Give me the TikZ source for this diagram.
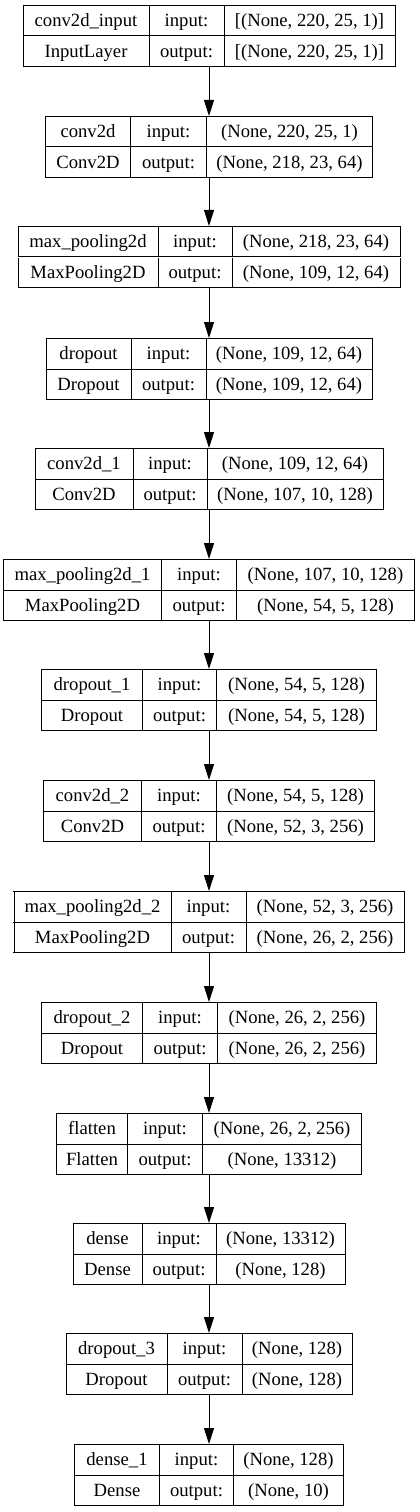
\documentclass[tikz,border=0pt]{standalone}
\usepackage{fontspec}
\setmainfont{Liberation Serif}
\usepackage{array}
\usepackage{tikz}
\usetikzlibrary{arrows.meta}

\setlength{\arrayrulewidth}{0.75pt}
\setlength{\tabcolsep}{0pt}
\newcommand{\rowstrut}{\rule[-6.7pt]{0pt}{22.125pt}}
% widths in px (1px = 0.75pt), then name, input, type, output
\newcommand{\layertab}[9]{%
  \begin{tabular}{|w{c}{\dimexpr 0.75pt*#1-0.75pt\relax}|w{c}{\dimexpr 0.75pt*#2-0.75pt\relax}|w{c}{\dimexpr 0.75pt*#3-0.75pt\relax}|}\hline
    \rowstrut #4 & #5 & #6\\\hline
    \rowstrut #7 & #8 & #9\\\hline
  \end{tabular}}

\begin{document}
\begin{tikzpicture}[
		layer/.style={rectangle, inner sep=0pt, outer sep=0pt, font=\fontsize{14pt}{16pt}\selectfont},
		flow/.style={line width=0.75pt, -{Triangle[length=12pt, width=7.5pt]}}
	]
  \useasboundingbox (0pt, 0pt) rectangle (314.25pt, -1134pt);
  \node (conv2d_input) [layer] at (156.75pt, -27pt) {\layertab{126}{75}{171}{conv2d\_input}{input:}{[(None, 220, 25, 1)]}{InputLayer}{output:}{[(None, 220, 25, 1)]}};
  \node (conv2d) [layer] at (156.75pt, -110.25pt) {\layertab{85}{76}{166}{conv2d}{input:}{(None, 220, 25, 1)}{Conv2D}{output:}{(None, 218, 23, 64)}};
  \node (max_pooling2d) [layer] at (156.75pt, -192.75pt) {\layertab{140}{74}{168}{max\_pooling2d}{input:}{(None, 218, 23, 64)}{MaxPooling2D}{output:}{(None, 109, 12, 64)}};
  \node (dropout) [layer] at (156.75pt, -276.75pt) {\layertab{85}{75}{166}{dropout}{input:}{(None, 109, 12, 64)}{Dropout}{output:}{(None, 109, 12, 64)}};
  \node (conv2d_1) [layer] at (156.75pt, -359.25pt) {\layertab{98}{74}{176}{conv2d\_1}{input:}{(None, 109, 12, 64)}{Conv2D}{output:}{(None, 107, 10, 128)}};
  \node (max_pooling2d_1) [layer] at (156.75pt, -442.5pt) {\layertab{158}{75}{178}{max\_pooling2d\_1}{input:}{(None, 107, 10, 128)}{MaxPooling2D}{output:}{(None, 54, 5, 128)}};
  \node (dropout_1) [layer] at (156.75pt, -525pt) {\layertab{101}{74}{160}{dropout\_1}{input:}{(None, 54, 5, 128)}{Dropout}{output:}{(None, 54, 5, 128)}};
  \node (conv2d_2) [layer] at (156.75pt, -608.25pt) {\layertab{98}{75}{158}{conv2d\_2}{input:}{(None, 54, 5, 128)}{Conv2D}{output:}{(None, 52, 3, 256)}};
  \node (max_pooling2d_2) [layer] at (156.75pt, -691.5pt) {\layertab{157}{75}{158}{max\_pooling2d\_2}{input:}{(None, 52, 3, 256)}{MaxPooling2D}{output:}{(None, 26, 2, 256)}};
  \node (dropout_2) [layer] at (156.75pt, -774.75pt) {\layertab{101}{75}{159}{dropout\_2}{input:}{(None, 26, 2, 256)}{Dropout}{output:}{(None, 26, 2, 256)}};
  \node (flatten) [layer] at (156.75pt, -858pt) {\layertab{71}{75}{159}{flatten}{input:}{(None, 26, 2, 256)}{Flatten}{output:}{(None, 13312)}};
  \node (dense) [layer] at (156.75pt, -940.5pt) {\layertab{69}{74}{129}{dense}{input:}{(None, 13312)}{Dense}{output:}{(None, 128)}};
  \node (dropout_3) [layer] at (156.75pt, -1023pt) {\layertab{101}{75}{110}{dropout\_3}{input:}{(None, 128)}{Dropout}{output:}{(None, 128)}};
  \node (dense_1) [layer] at (156.75pt, -1106.25pt) {\layertab{85}{74}{110}{dense\_1}{input:}{(None, 128)}{Dense}{output:}{(None, 10)}};
  \draw [flow] (conv2d_input) -- (conv2d);
  \draw [flow] (conv2d) -- (max_pooling2d);
  \draw [flow] (max_pooling2d) -- (dropout);
  \draw [flow] (dropout) -- (conv2d_1);
  \draw [flow] (conv2d_1) -- (max_pooling2d_1);
  \draw [flow] (max_pooling2d_1) -- (dropout_1);
  \draw [flow] (dropout_1) -- (conv2d_2);
  \draw [flow] (conv2d_2) -- (max_pooling2d_2);
  \draw [flow] (max_pooling2d_2) -- (dropout_2);
  \draw [flow] (dropout_2) -- (flatten);
  \draw [flow] (flatten) -- (dense);
  \draw [flow] (dense) -- (dropout_3);
  \draw [flow] (dropout_3) -- (dense_1);
\end{tikzpicture}
\end{document}
